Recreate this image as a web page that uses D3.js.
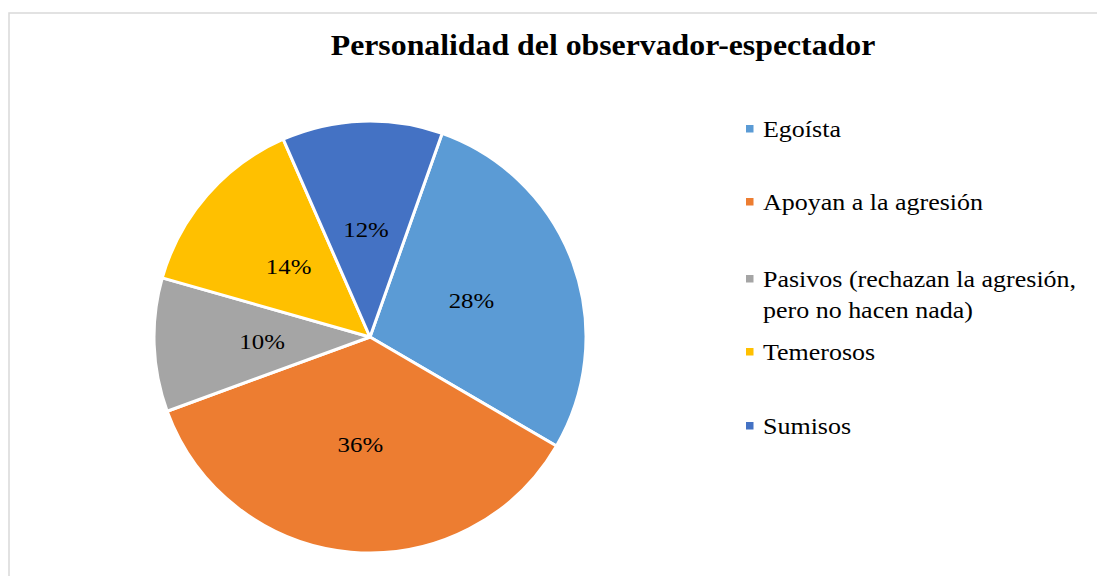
<!DOCTYPE html>
<html>
<head>
<meta charset="utf-8">
<script src="https://cdn.jsdelivr.net/npm/d3@7"></script>
<style>
  body { margin: 0; background: #fff; }
  text { font-family: "Liberation Serif", "Times New Roman", serif; fill: #000; }
</style>
</head>
<body>
<svg id="chart" width="1097" height="576"></svg>
<script>
const categories = ["Egoísta", "Apoyan a la agresión", "Pasivos (rechazan la agresión, pero no hacen nada)", "Temerosos", "Sumisos"];
const values = [28, 36, 10, 14, 12];
const legendLines = [["Egoísta"], ["Apoyan a la agresión"], ["Pasivos (rechazan la agresión,", "pero no hacen nada)"], ["Temerosos"], ["Sumisos"]];
const colors = ["#5B9BD5", "#ED7D31", "#A5A5A5", "#FFC000", "#4472C4"];
const title = "Personalidad del observador-espectador";

const svg = d3.select("#chart");
const width = 1097, height = 576;
const cx = 370, cy = 337, radius = 216;
const stretch = 1.13; // text in the picture is a bit wider than plain Times

// chart area border (runs off the right and bottom edge)
svg.append("rect")
  .attr("x", 9).attr("y", 13)
  .attr("width", width + 10).attr("height", height)
  .attr("fill", "none")
  .attr("stroke", "#d9d9d9")
  .attr("stroke-width", 1.5);

svg.append("text")
  .attr("transform", `translate(603,55) scale(1.06,1)`)
  .attr("text-anchor", "middle")
  .style("font-size", "30px")
  .style("font-weight", "bold")
  .text(title);

const start = 19.5 * Math.PI / 180;
const pie = d3.pie().sort(null).value(d => d)
  .startAngle(start).endAngle(start + 2 * Math.PI);
const arcs = pie(values);
const arc = d3.arc().innerRadius(0).outerRadius(radius);
const labelArc = d3.arc().innerRadius(radius * 0.5).outerRadius(radius * 0.5);
const total = d3.sum(values);

const g = svg.append("g").attr("transform", `translate(${cx},${cy})`);

g.selectAll("path")
  .data(arcs)
  .join("path")
  .attr("d", arc)
  .attr("fill", (d, i) => colors[i])
  .attr("stroke", "#fff")
  .attr("stroke-width", 3)
  .attr("stroke-linejoin", "round");

g.selectAll("text.lbl")
  .data(arcs)
  .join("text")
  .attr("class", "lbl")
  .attr("transform", d => {
    const [x, y] = labelArc.centroid(d);
    return `translate(${x},${y}) scale(${stretch},1)`;
  })
  .attr("text-anchor", "middle")
  .attr("dy", "0.35em")
  .style("font-size", "22px")
  .text(d => Math.round(d.data / total * 100) + "%");

// legend
const legendY = [137, 210, 287, 360, 434];
const legend = svg.append("g");
legendLines.forEach((lines, i) => {
  legend.append("rect")
    .attr("x", 746).attr("y", legendY[i] - 12)
    .attr("width", 7.5).attr("height", 7.5)
    .attr("fill", colors[i]);
  const t = legend.append("text")
    .attr("transform", `translate(763,${legendY[i]}) scale(${stretch},1)`)
    .style("font-size", "23px");
  lines.forEach((line, j) => {
    t.append("tspan").attr("x", 0).attr("y", j * 31).text(line);
  });
});
</script>
</body>
</html>
